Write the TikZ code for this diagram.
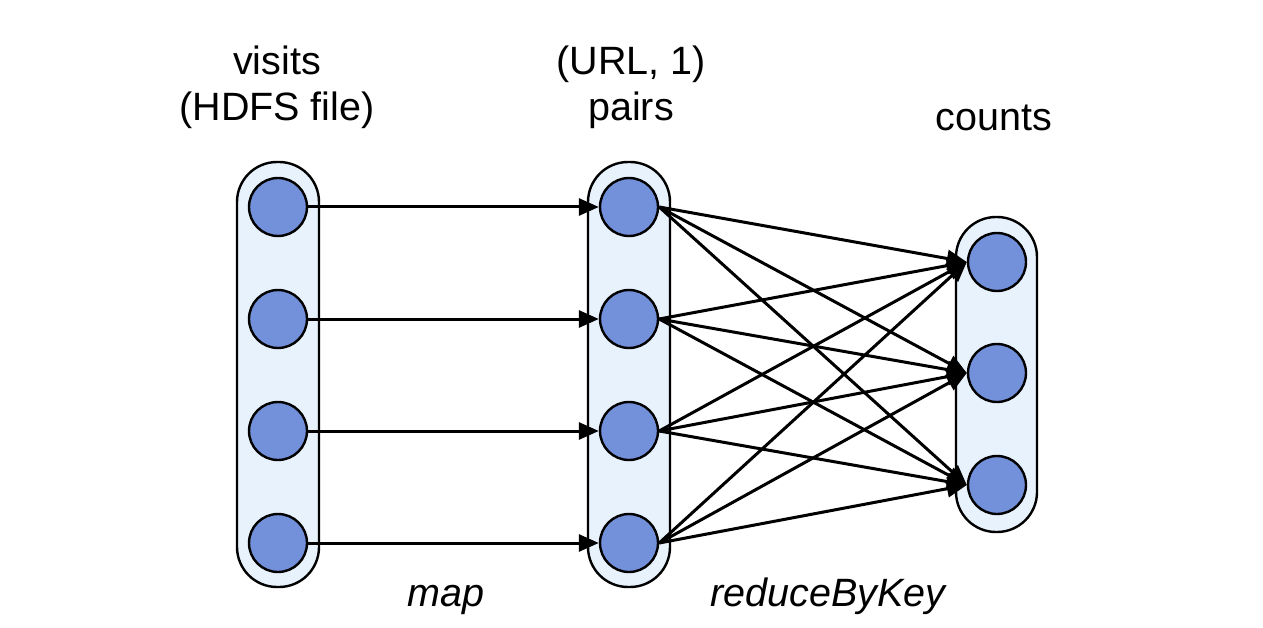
\documentclass[tikz,border=0pt]{standalone}
\usepackage{fontspec}
\setmainfont{Liberation Sans}
\usetikzlibrary{arrows.meta}
\definecolor{dotblue}{RGB}{114,145,218}
\definecolor{colfill}{RGB}{232,242,252}
\tikzset{
  dot/.style={circle, draw=black, line width=2.4pt, fill=dotblue, minimum size=58pt, inner sep=0pt},
  col/.style={draw=black, line width=2.4pt, fill=colfill, rounded corners=40pt},
  conn/.style={draw=black, line width=3pt, -{Triangle[length=20pt,width=17pt]}},
  lbl/.style={font=\fontsize{39.5}{46}\selectfont, inner sep=0pt, anchor=base},
  ilbl/.style={lbl, font=\fontsize{39.5}{46}\selectfont\itshape},
}
\begin{document}
\begin{tikzpicture}[x=1pt,y=-1pt]
\useasboundingbox (0,0) rectangle (1263,628);
% columns
\path[col] (237,162) rectangle (319,587);
\path[col] (588,162) rectangle (670,587);
\path[col] (956,217) rectangle (1037,532);
% dots
\foreach \i/\y in {1/207,2/319,3/431,4/543}{
  \node[dot] (a\i) at (278,\y) {};
  \node[dot] (b\i) at (629,\y) {};
}
\foreach \i/\y in {1/262,2/373,3/485}{
  \node[dot] (c\i) at (997,\y) {};
}
% map arrows
\foreach \i in {1,2,3,4}{
  \draw[conn] (a\i.east) -- (b\i.west);
}
% reduce arrows
\foreach \i in {1,2,3,4}{
  \foreach \j in {1,2,3}{
    \draw[conn] (b\i.east) -- (c\j.west);
  }
}
% labels
\node[lbl] (t1a) at (277,75) {visits};
\node[lbl] (t1b) at (277,121) {(HDFS file)};
\node[lbl] (t2a) at (631,75) {(URL, 1)};
\node[lbl] (t2b) at (631,121) {pairs};
\node[lbl] (t3) at (994,131) {counts};
\node[ilbl] (t4) at (446,606) {map};
\node[ilbl] (t5) at (828,606) {reduceByKey};
\end{tikzpicture}
\end{document}
